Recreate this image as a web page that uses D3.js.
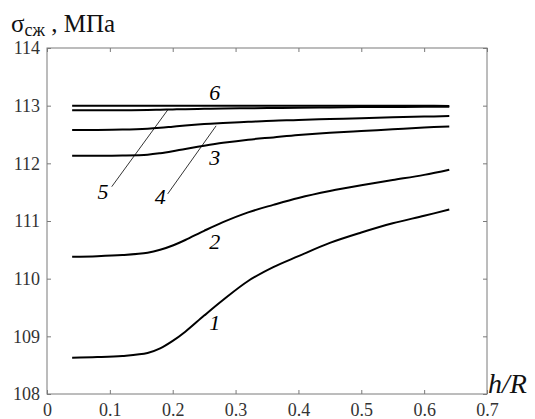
<!DOCTYPE html>
<html>
<head>
<meta charset="utf-8">
<script src="https://cdn.jsdelivr.net/npm/d3@7"></script>
<style>
  body { margin: 0; background: #fff; }
  svg { display: block; }
</style>
</head>
<body>
<svg id="chart" width="535" height="419"></svg>
<script>
// h/R values shared by all curves
const hR = [0.04, 0.08, 0.12, 0.16, 0.18, 0.2, 0.22, 0.25, 0.28, 0.32, 0.36, 0.4, 0.45, 0.5, 0.55, 0.6, 0.64];

const curve1 = [108.63, 108.64, 108.66, 108.71, 108.79, 108.92, 109.08, 109.36, 109.63, 109.96, 110.2, 110.39, 110.62, 110.8, 110.96, 111.09, 111.2];
const curve2 = [110.38, 110.39, 110.41, 110.45, 110.5, 110.575, 110.67, 110.83, 110.98, 111.15, 111.28, 111.4, 111.52, 111.62, 111.71, 111.8, 111.89];
const curve3 = [112.13, 112.13, 112.135, 112.15, 112.175, 112.21, 112.25, 112.305, 112.355, 112.41, 112.45, 112.49, 112.53, 112.56, 112.59, 112.62, 112.64];
const curve4 = [112.58, 112.58, 112.585, 112.6, 112.615, 112.635, 112.655, 112.68, 112.7, 112.72, 112.74, 112.75, 112.77, 112.78, 112.8, 112.81, 112.82];
const curve5 = [112.92, 112.92, 112.92, 112.925, 112.93, 112.935, 112.94, 112.945, 112.95, 112.955, 112.96, 112.965, 112.97, 112.975, 112.978, 112.98, 112.98];
const curve6 = [113.0, 113.0, 113.0, 113.0, 113.0, 113.0, 113.0, 113.0, 113.0, 113.0, 113.0, 113.0, 113.0, 113.0, 113.0, 113.0, 112.995];

const xTicks = [0, 0.1, 0.2, 0.3, 0.4, 0.5, 0.6, 0.7];
const yTicks = [108, 109, 110, 111, 112, 113, 114];

// curve number labels [label, h/R, sigma]
const curveLabels = [
  ['6', 0.267, 113.10],
  ['3', 0.267, 111.97],
  ['5', 0.089, 111.38],
  ['4', 0.180, 111.295],
  ['2', 0.267, 110.515],
  ['1', 0.267, 109.11]
];
// leader lines for 5 and 4 [x1, y1, x2, y2]
const leaders = [
  [0.103, 111.595, 0.192, 112.925],
  [0.192, 111.47, 0.269, 112.65]
];

const svg = d3.select('#chart');
const mLeft = 47, mRight = 487, mTop = 48, mBottom = 394;

const x = d3.scaleLinear().domain([0, 0.7]).range([mLeft, mRight]);
const y = d3.scaleLinear().domain([108, 114]).range([mBottom, mTop]);

const serif = '"Liberation Serif", "Times New Roman", serif';
const axisColor = '#7a7a7a';

// frame
svg.append('rect')
  .attr('x', mLeft).attr('y', mTop)
  .attr('width', mRight - mLeft).attr('height', mBottom - mTop)
  .attr('fill', 'none').attr('stroke', axisColor).attr('stroke-width', 1);

// axes (ticks pointing inward)
function styleAxis(g) {
  g.select('.domain').remove();
  g.selectAll('.tick line').attr('stroke', axisColor);
  g.selectAll('.tick text')
    .attr('fill', '#333')
    .attr('font-family', serif)
    .attr('font-size', 18);
}

svg.append('g')
  .attr('transform', `translate(0,${mBottom})`)
  .call(d3.axisBottom(x).tickValues(xTicks).tickFormat(d => d === 0 ? '0' : d3.format('.1f')(d)).tickSizeInner(-4).tickPadding(9))
  .call(styleAxis);

svg.append('g')
  .attr('transform', `translate(0,${mTop})`)
  .call(d3.axisTop(x).tickValues(xTicks).tickFormat('').tickSizeInner(-4))
  .call(styleAxis);

svg.append('g')
  .attr('transform', `translate(${mLeft},0)`)
  .call(d3.axisLeft(y).tickValues(yTicks).tickFormat(d3.format('d')).tickSizeInner(-4).tickPadding(7))
  .call(styleAxis);

svg.append('g')
  .attr('transform', `translate(${mRight},0)`)
  .call(d3.axisRight(y).tickValues(yTicks).tickFormat('').tickSizeInner(-4))
  .call(styleAxis);

// curves
const line = d3.line()
  .x((d, i) => x(hR[i]))
  .y(d => y(d))
  .curve(d3.curveCatmullRom.alpha(0.5));

[curve1, curve2, curve3, curve4, curve5, curve6].forEach(c => {
  svg.append('path')
    .attr('d', line(c))
    .attr('fill', 'none')
    .attr('stroke', '#000')
    .attr('stroke-width', 2);
});

// leader lines
svg.selectAll('line.leader')
  .data(leaders)
  .join('line')
  .attr('class', 'leader')
  .attr('x1', d => x(d[0])).attr('y1', d => y(d[1]))
  .attr('x2', d => x(d[2])).attr('y2', d => y(d[3]))
  .attr('stroke', '#000')
  .attr('stroke-width', 0.8);

// curve labels
svg.selectAll('text.clabel')
  .data(curveLabels)
  .join('text')
  .attr('class', 'clabel')
  .attr('x', d => x(d[1]))
  .attr('y', d => y(d[2]))
  .attr('text-anchor', 'middle')
  .attr('font-family', serif)
  .attr('font-style', 'italic')
  .attr('font-size', 22)
  .text(d => d[0]);

// y axis title
const title = svg.append('text')
  .attr('x', 11).attr('y', 32)
  .attr('font-family', serif)
  .attr('font-size', 25)
  .attr('fill', '#111');
title.append('tspan').text('σ');
title.append('tspan').attr('dy', 4).attr('font-size', 18).text('сж');
title.append('tspan').attr('dy', -4).text(' , МПа');

// x axis title
svg.append('text')
  .attr('x', 488).attr('y', 393)
  .attr('font-family', serif)
  .attr('font-style', 'italic')
  .attr('font-size', 28)
  .attr('fill', '#111')
  .text('h/R');
</script>
</body>
</html>
